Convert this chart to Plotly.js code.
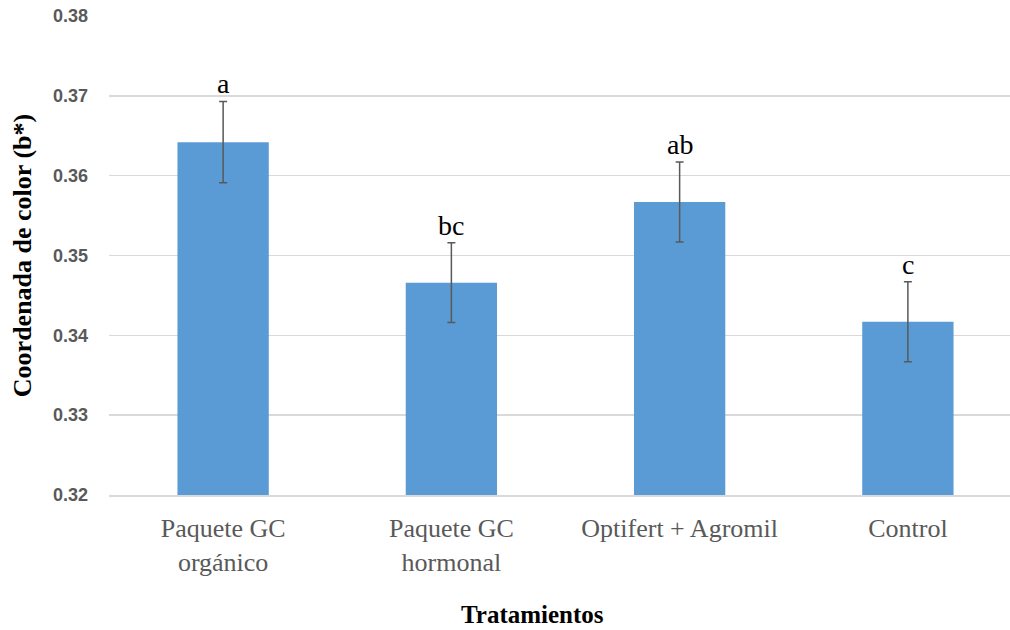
<!DOCTYPE html>
<html>
<head>
<meta charset="utf-8">
<script src="https://cdn.plot.ly/plotly-3.0.1.min.js"></script>
<style>
html, body { margin: 0; padding: 0; width: 1010px; height: 630px; overflow: hidden; background: #fff; }
#chart { width: 1022px; height: 630px; }
</style>
</head>
<body>
<div id="chart"></div>
<script>
var categories = ["Paquete GC<br>orgánico", "Paquete GC<br>hormonal", "Optifert + Agromil", "Control"];
var values = [0.3642, 0.3466, 0.3567, 0.3417];
var errors = [0.0051, 0.0050, 0.0050, 0.0050];
var letters = ["a", "bc", "ab", "c"];
var yTitle = "Coordenada de color (b*)";
var xTitle = "Tratamientos";

var trace = {
  type: "bar",
  x: categories,
  y: values,
  marker: { color: "#5b9bd5" },
  error_y: { type: "data", array: errors, visible: true, color: "#595959", thickness: 1.5, width: 4 },
  hoverinfo: "x+y"
};

var W = 1022, H = 630, ml = 109, mr = 0, mt = 16, mb = 135;

var annotations = categories.map(function (c, i) {
  return {
    x: c, y: values[i] + errors[i], xref: "x", yref: "y",
    text: letters[i], showarrow: false, yanchor: "bottom", yshift: 0,
    font: { family: "Liberation Serif, Times New Roman, serif", size: 28, color: "#000" }
  };
});
annotations.push({
  x: (532 - ml) / (W - ml - mr), y: (H - mb - 614) / (H - mt - mb),
  xref: "paper", yref: "paper", text: "<b>" + xTitle + "</b>",
  showarrow: false, xanchor: "center", yanchor: "middle",
  font: { family: "Liberation Serif, Times New Roman, serif", size: 25, color: "#000" }
});

var layout = {
  width: W, height: H,
  margin: { l: ml, r: mr, t: mt, b: mb, pad: 0 },
  paper_bgcolor: "#fff", plot_bgcolor: "#fff",
  bargap: 0.6,
  showlegend: false,
  xaxis: {
    type: "category",
    showgrid: false, zeroline: false,
    showline: true, linecolor: "#d9d9d9", linewidth: 1.5,
    ticks: "", ticklabelstandoff: 9,
    tickfont: { family: "Liberation Serif, Times New Roman, serif", size: 26, color: "#595959" }
  },
  yaxis: {
    range: [0.32, 0.38], dtick: 0.01, tick0: 0.32, tickformat: ".2f",
    showgrid: true, gridcolor: "#d9d9d9", gridwidth: 1.5,
    zeroline: false, showline: false, ticks: "", ticklabelstandoff: 20,
    tickfont: { family: "Liberation Sans, Arial, sans-serif", size: 18, color: "#595959", weight: "bold" },
    title: {
      text: "<b>" + yTitle + "</b>", standoff: 13,
      font: { family: "Liberation Serif, Times New Roman, serif", size: 26, color: "#000" }
    }
  },
  annotations: annotations
};

Plotly.newPlot("chart", [trace], layout, { displayModeBar: false, staticPlot: true });
</script>
</body>
</html>
